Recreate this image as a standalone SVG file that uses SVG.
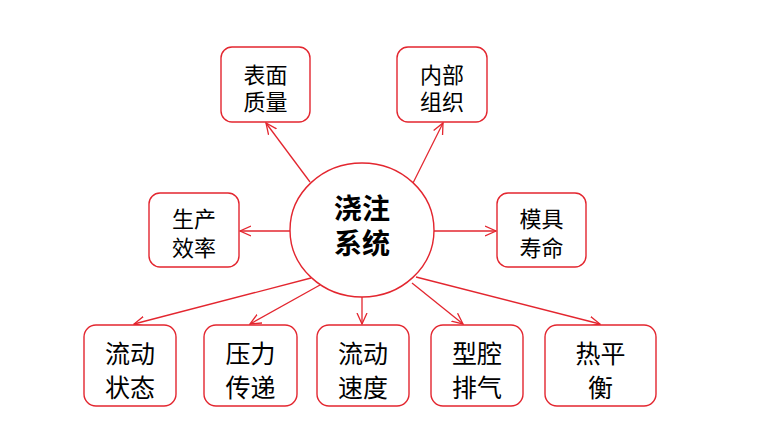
<svg xmlns="http://www.w3.org/2000/svg" width="770" height="447" viewBox="0 0 770 447">
<defs>
<marker id="arr" viewBox="0 0 12 12" refX="11" refY="6" markerWidth="12" markerHeight="12" markerUnits="userSpaceOnUse" orient="auto">
<polyline points="0,1 11,6 0,11" fill="none" stroke="#e3262f" stroke-width="1.3"/>
</marker>
<style>
.box{fill:#fff;stroke:#e3262f;stroke-width:1.4}
.t{font-family:"Noto Sans CJK SC","Noto Sans CJK JP",sans-serif;font-size:22px;fill:#000;text-anchor:middle;dominant-baseline:central}
.tb{font-size:25px}
.c{font-size:28px;font-weight:bold}
.ln{stroke:#e3262f;stroke-width:1.3;fill:none;marker-end:url(#arr)}
</style>
</defs>
<rect width="770" height="447" fill="#fff"/>
<g id="connectors">
<line class="ln" x1="310" y1="182" x2="266" y2="123"/>
<line class="ln" x1="413" y1="183" x2="443" y2="123"/>
<line class="ln" x1="290" y1="231" x2="240" y2="231"/>
<line class="ln" x1="434" y1="231" x2="496" y2="231"/>
<line class="ln" x1="311" y1="278" x2="134" y2="324"/>
<line class="ln" x1="320" y1="285" x2="250" y2="324"/>
<line class="ln" x1="362" y1="297" x2="362" y2="324"/>
<line class="ln" x1="412" y1="283" x2="463" y2="324"/>
<line class="ln" x1="416" y1="277" x2="600" y2="324"/>
</g>
<g id="center">
<ellipse cx="362" cy="230" rx="72" ry="67" class="box"/>
<text class="t c" x="362" y="207">浇注</text>
<text class="t c" x="362" y="242">系统</text>
</g>
<g id="n-surface">
<rect class="box" x="221" y="47" width="89" height="75" rx="11"/>
<text class="t" x="265.5" y="73">表面</text>
<text class="t" x="265.5" y="100">质量</text>
</g>
<g id="n-internal">
<rect class="box" x="397" y="47" width="90" height="75" rx="11"/>
<text class="t" x="442" y="73">内部</text>
<text class="t" x="442" y="100">组织</text>
</g>
<g id="n-efficiency">
<rect class="box" x="149" y="193" width="90" height="74" rx="11"/>
<text class="t" x="194" y="217">生产</text>
<text class="t" x="194" y="246">效率</text>
</g>
<g id="n-mold">
<rect class="box" x="497" y="193" width="89" height="74" rx="11"/>
<text class="t" x="541.5" y="217">模具</text>
<text class="t" x="541.5" y="246">寿命</text>
</g>
<g id="n-flowstate">
<rect class="box" x="84" y="325" width="92" height="81" rx="12"/>
<text class="t tb" x="130" y="352">流动</text>
<text class="t tb" x="130" y="386">状态</text>
</g>
<g id="n-pressure">
<rect class="box" x="204" y="325" width="93" height="81" rx="12"/>
<text class="t tb" x="250.5" y="352">压力</text>
<text class="t tb" x="250.5" y="386">传递</text>
</g>
<g id="n-flowspeed">
<rect class="box" x="317" y="325" width="92" height="81" rx="12"/>
<text class="t tb" x="363" y="352">流动</text>
<text class="t tb" x="363" y="386">速度</text>
</g>
<g id="n-exhaust">
<rect class="box" x="431" y="325" width="92" height="81" rx="12"/>
<text class="t tb" x="477" y="352">型腔</text>
<text class="t tb" x="477" y="386">排气</text>
</g>
<g id="n-thermal">
<rect class="box" x="545" y="325" width="111" height="81" rx="12"/>
<text class="t tb" x="600.5" y="352">热平</text>
<text class="t tb" x="600.5" y="386">衡</text>
</g>
</svg>
